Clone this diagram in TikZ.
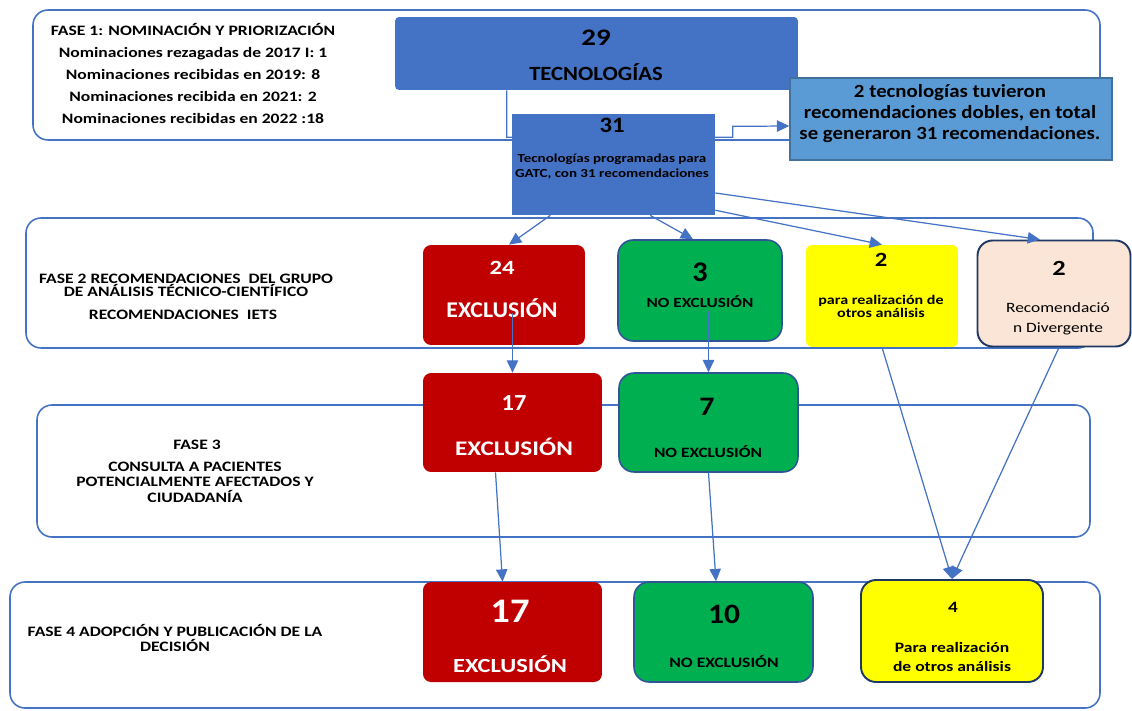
\documentclass[tikz,border=0pt]{standalone}
\usepackage{fontspec}
\setmainfont{Carlito}[FakeStretch=1.22]
\newfontfamily\ancho{Carlito}[FakeStretch=1.06]
\newfontfamily\medio{Carlito}[FakeStretch=1.12]
\usetikzlibrary{arrows.meta,calc}

\definecolor{azul}{HTML}{4472C4}
\definecolor{azulclaro}{HTML}{5B9BD5}
\definecolor{azulborde}{HTML}{41719C}
\definecolor{rojo}{HTML}{C00000}
\definecolor{verde}{HTML}{00B050}
\definecolor{verdeborde}{HTML}{2F5597}
\definecolor{amarillo}{HTML}{FFFF00}
\definecolor{durazno}{HTML}{FBE5D6}
\definecolor{marino}{HTML}{203864}

\tikzset{
  fase/.style={draw=azul, line width=0.9pt, rounded corners=0.3cm},
  flecha/.style={draw=azul, line width=0.7pt, -{Triangle[length=7pt,width=6.5pt]}},
  caja/.style={rectangle, inner sep=0pt},
  txt/.style 2 args={font=\bfseries\fontsize{#1}{#2}\selectfont, align=center, inner sep=0pt},
  blanco/.style 2 args={txt={#1}{#2}, text=white},
}

\begin{document}
\begin{tikzpicture}[x=0.02cm,y=-0.02cm]
\useasboundingbox (0,0) rectangle (1132,710);

\draw[fase] (33,10) rectangle (1100,140);
\draw[fase] (26,218) rectangle (1093,348);
\draw[fase] (37,405) rectangle (1090,537);
\draw[fase] (10,582) rectangle (1100,708);

\node[caja, fill=azul, rounded corners=0.08cm, minimum width=8.06cm, minimum height=1.46cm] (n29) at (596.5,53.5) {};
\node[caja, fill=azulclaro, draw=azulborde, line width=0.9pt, minimum width=6.44cm, minimum height=1.64cm] (lado) at (951,119) {};

\draw[flecha] ([xshift=2.24cm]n29.south west) -- ++(0,47) -- ++(226,0) -- ++(0,-11) -- ([yshift=-0.14cm]lado.west);

\node[caja, fill=azul, minimum width=4.06cm, minimum height=2.02cm] (n31) at (613.5,164.5) {};

\node[caja, fill=rojo, rounded corners=0.16cm, minimum width=3.24cm, minimum height=2cm] (n24) at (504,295) {};
\node[caja, fill=verde, draw=verdeborde, line width=0.9pt, rounded corners=0.3cm, minimum width=3.28cm, minimum height=2.02cm] (n3) at (700,290.5) {};
\node[caja, fill=amarillo, rounded corners=0.12cm, minimum width=3.04cm, minimum height=2.04cm] (n2a) at (882,296) {};
\node[caja, fill=durazno, draw=marino, line width=1.1pt, rounded corners=0.3cm, minimum width=3.06cm, minimum height=2.12cm] (n2b) at (1054,293.5) {};

\node[caja, fill=rojo, rounded corners=0.16cm, minimum width=3.58cm, minimum height=1.98cm] (n17a) at (512.5,422.5) {};
\node[caja, fill=verde, draw=verdeborde, line width=0.9pt, rounded corners=0.3cm, minimum width=3.58cm, minimum height=1.98cm] (n7) at (708.5,422.5) {};

\node[caja, fill=rojo, rounded corners=0.16cm, minimum width=3.58cm, minimum height=2cm] (n17b) at (512.5,632) {};
\node[caja, fill=verde, draw=verdeborde, line width=0.9pt, rounded corners=0.3cm, minimum width=3.58cm, minimum height=2cm] (n10) at (723.5,632) {};
\node[caja, fill=amarillo, draw=marino, line width=1.1pt, rounded corners=0.3cm, minimum width=3.64cm, minimum height=2.04cm] (n4) at (952,631) {};

% textos
\node[txt={8.2}{12.6}] (t1) at (193,73.5) {FASE 1: NOMINACIÓN Y PRIORIZACIÓN\\Nominaciones rezagadas de 2017 I: 1\\Nominaciones recibidas en 2019: 8\\Nominaciones recibida en 2021: 2\\Nominaciones recibidas en 2022 :18};
\node[txt={13.5}{13}] (t29) at (596,38) {29};
\node[txt={11.5}{11}] (t29b) at (596,72) {\medio TECNOLOGÍAS};
\node[txt={12.5}{12}] (t31) at (612,125) {\medio 31};
\node[txt={7}{8.5}] (t31b) at (612,166.5) {Tecnologías programadas para\\GATC, con 31 recomendaciones};
\node[txt={10.6}{12.2}, font={\medio\bfseries\fontsize{10.6}{12.2}\selectfont}] (tlado) at (950,113.5) {2 tecnologías tuvieron\\recomendaciones dobles, en total\\se generaron 31 recomendaciones.};

\node[txt={8.2}{7.6}] (t2) at (186,285.4) {FASE 2 RECOMENDACIONES\ \ DEL GRUPO\\DE ANÁLISIS TÉCNICO-CIENTÍFICO};
\node[txt={8.2}{8}] (t2b) at (183,315) {RECOMENDACIONES\ \ IETS};
\node[blanco={11.5}{12}] (t24) at (502,268) {24};
\node[blanco={12.8}{12}] (t24b) at (502,308) {\ancho EXCLUSIÓN};
\node[txt={16.2}{16}] (t3) at (700,272) {\ancho 3};
\node[txt={8}{8}] (t3b) at (700,302) {NO EXCLUSIÓN};
\node[txt={11.5}{12}] (t2a) at (881,260) {2};
\node[txt={7.5}{7.4}] (t2ab) at (881,306) {para realización de\\otros análisis};
\node[txt={12.3}{12}] (t2c) at (1059,268) {2};
\node[txt={8.1}{11.3}, font={\mdseries\fontsize{8.1}{11.3}\selectfont}] (t2cb) at (1058,319) {Recomendació\\n Divergente};

\node[txt={8.2}{8}] (t3f) at (197,445) {FASE 3};
\node[txt={8.2}{8.8}] (t3fb) at (195,482) {CONSULTA A PACIENTES\\POTENCIALMENTE AFECTADOS Y\\CIUDADANÍA};
\node[blanco={13.1}{13}] (t17a) at (514,403) {\ancho 17};
\node[blanco={11.8}{12}] (t17ab) at (514,447) {EXCLUSIÓN};
\node[txt={15.2}{15}] (t7) at (707,407) {\medio 7};
\node[txt={8.1}{8}] (t7b) at (708,452) {NO EXCLUSIÓN};

\node[txt={8.2}{8}] (t4f) at (175,638) {FASE 4 ADOPCIÓN Y PUBLICACIÓN DE LA\\DECISIÓN};
\node[blanco={19.6}{19}] (t17b) at (510,611) {\medio 17};
\node[blanco={11.4}{11}] (t17bb) at (510,664) {EXCLUSIÓN};
\node[txt={16}{16}] (t10) at (724,614) {\medio 10};
\node[txt={8.2}{8}] (t10b) at (724,661) {NO EXCLUSIÓN};
\node[txt={9}{9}] (t4) at (953,607) {4};
\node[txt={8.2}{11.3}] (t4b) at (952,657) {Para realización\\de otros análisis};

% flechas
\draw[flecha] ($(n31.south west)!0.19!(n31.south east)$) -- ([xshift=0.1cm]n24.north);
\draw[flecha] ($(n31.south west)!0.68!(n31.south east)$) -- ([xshift=-0.14cm]n3.north);
\draw[flecha] ($(n31.north east)!0.95!(n31.south east)$) -- (n2a.north);
\draw[flecha] ($(n31.north east)!0.78!(n31.south east)$) -- ([xshift=-0.28cm]n2b.north);

\draw[flecha] ($(n17a.north |- n24.center)+(0,18)$) -- (n17a.north);
\draw[flecha] ($(n7.north |- n3.center)+(0,20)$) -- (n7.north);

\draw[flecha] ([xshift=-0.34cm]n17a.south) -- ([xshift=-0.2cm]n17b.north);
\draw[flecha] (n7.south) -- ([xshift=-0.15cm]n10.north);
\draw[flecha] (n2a.south) -- (n4.north);
\draw[flecha] ([xshift=0.1cm]n2b.south) -- (n4.north);
\end{tikzpicture}
\end{document}
